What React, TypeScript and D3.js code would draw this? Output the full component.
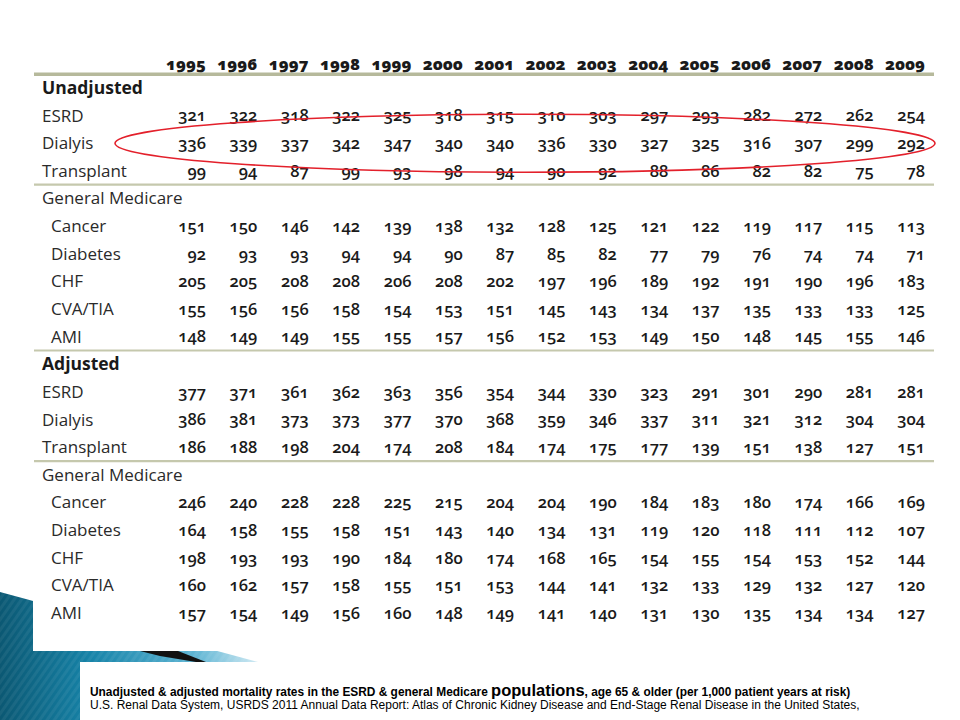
import React from "react";
import * as d3 from "d3";

const years = ["1995","1996","1997","1998","1999","2000","2001","2002","2003","2004","2005","2006","2007","2008","2009"];

const sectionTitles = ["Unadjusted", "Adjusted"];
const groupTitle = "General Medicare";
const renalLabels = ["ESRD", "Dialyis", "Transplant"];
const medicareLabels = ["Cancer", "Diabetes", "CHF", "CVA/TIA", "AMI"];

// Unadjusted
const unEsrd = [321,322,318,322,325,318,315,310,303,297,293,282,272,262,254];
const unDialysis = [336,339,337,342,347,340,340,336,330,327,325,316,307,299,292];
const unTransplant = [99,94,87,99,93,98,94,90,92,88,86,82,82,75,78];
const unCancer = [151,150,146,142,139,138,132,128,125,121,122,119,117,115,113];
const unDiabetes = [92,93,93,94,94,90,87,85,82,77,79,76,74,74,71];
const unChf = [205,205,208,208,206,208,202,197,196,189,192,191,190,196,183];
const unCva = [155,156,156,158,154,153,151,145,143,134,137,135,133,133,125];
const unAmi = [148,149,149,155,155,157,156,152,153,149,150,148,145,155,146];

// Adjusted
const adEsrd = [377,371,361,362,363,356,354,344,330,323,291,301,290,281,281];
const adDialysis = [386,381,373,373,377,370,368,359,346,337,311,321,312,304,304];
const adTransplant = [186,188,198,204,174,208,184,174,175,177,139,151,138,127,151];
const adCancer = [246,240,228,228,225,215,204,204,190,184,183,180,174,166,169];
const adDiabetes = [164,158,155,158,151,143,140,134,131,119,120,118,111,112,107];
const adChf = [198,193,193,190,184,180,174,168,165,154,155,154,153,152,144];
const adCva = [160,162,157,158,155,151,153,144,141,132,133,129,132,127,120];
const adAmi = [157,154,149,156,160,148,149,141,140,131,130,135,134,134,127];

const captionBold = "Unadjusted & adjusted mortality rates in the ESRD & general Medicare ";
const captionBig = "populations";
const captionRest = ", age 65 & older (per 1,000 patient years at risk)";
const captionSource = "U.S. Renal Data System, USRDS 2011 Annual Data Report: Atlas of Chronic Kidney Disease and End-Stage Renal Disease in the United States,";

type Row = { kind: "section" | "group" | "renal" | "medicare"; label: string; values?: number[] };

function buildRows(): Row[] {
  const rows: Row[] = [];
  const sets = [
    [unEsrd, unDialysis, unTransplant, unCancer, unDiabetes, unChf, unCva, unAmi],
    [adEsrd, adDialysis, adTransplant, adCancer, adDiabetes, adChf, adCva, adAmi],
  ];
  sectionTitles.forEach((t, s) => {
    rows.push({ kind: "section", label: t });
    renalLabels.forEach((l, i) => rows.push({ kind: "renal", label: l, values: sets[s][i] }));
    rows.push({ kind: "group", label: groupTitle });
    medicareLabels.forEach((l, i) => rows.push({ kind: "medicare", label: l, values: sets[s][3 + i] }));
  });
  return rows;
}

export default function App() {
  const W = 960, H = 720;
  const rows = buildRows();
  const x = d3.scalePoint<string>().domain(years).range([206, 925]);
  const y = d3.scaleLinear().domain([0, rows.length - 1]).range([88, 613]);
  const lineX0 = 34, lineX1 = 934;
  const textColor = "#1a1a1a";
  const labelColor = "#2a2a2a";
  const ruleColor = "#c5c8ad";
  const tableFont = "'Open Sans', 'Noto Sans', sans-serif";

  const seps: number[] = [];
  rows.forEach((r, i) => {
    if (i > 0 && (r.kind === "group" || r.kind === "section")) seps.push(y(i - 0.5));
  });

  const dialIdx = rows.findIndex((r) => r.label === "Dialyis");
  const ex0 = (x("1995") as number) - 91;
  const ex1 = (x("2009") as number) + 10;
  const ellipse = { cx: (ex0 + ex1) / 2, cy: y(dialIdx), rx: (ex1 - ex0) / 2, ry: 29 };

  const labelX = (r: Row) => (r.kind === "medicare" ? 51 : 42);
  const labelSize = (r: Row) => (r.kind === "section" ? 17.5 : 17);

  const bluePath = d3.line()([[0, 592], [258, 662], [258, 720], [0, 720]]) + "Z";
  const streak = d3.line()([[140, 651], [178, 651], [206, 662], [196, 662], [160, 656]]) + "Z";

  return (
    <svg width={W} height={H} style={{ position: "absolute", left: 0, top: 0, background: "#fff" }}>
      <defs>
        <linearGradient id="blueGrad" x1="0" y1="0" x2="1" y2="0">
          <stop offset="0" stopColor="#0b5873" />
          <stop offset="0.35" stopColor="#1683a8" />
          <stop offset="0.75" stopColor="#5db4d3" />
          <stop offset="1" stopColor="#cfe9f3" />
        </linearGradient>
        <pattern id="stripes" width="6" height="6" patternUnits="userSpaceOnUse" patternTransform="rotate(35)">
          <rect width="3" height="6" fill="rgba(255,255,255,0.06)" />
        </pattern>
      </defs>
      <rect x={0} y={0} width={W} height={H} fill="#fff" />
      <path d={bluePath} fill="url(#blueGrad)" />
      <path d={bluePath} fill="url(#stripes)" />
      <path d={streak} fill="#111" />
      <rect x={33} y={0} width={W - 33} height={651} fill="#fff" />
      <rect x={80} y={662} width={W - 80} height={H - 662} fill="#fff" />

      <g fontFamily={tableFont} fill={textColor} style={{ fontVariantNumeric: "oldstyle-nums tabular-nums" }}>
        {years.map((yr) => (
          <text key={yr} x={x(yr)} y={y(-0.87)} dy="0.35em" textAnchor="end" fontSize={16.5} fontWeight={800}>
            {yr}
          </text>
        ))}
        <line x1={lineX0} x2={lineX1} y1={y(-0.5)} y2={y(-0.5)} stroke="#b6b99b" strokeWidth={3.5} />
        {seps.map((s, i) => (
          <line key={i} x1={lineX0} x2={lineX1} y1={s} y2={s} stroke={ruleColor} strokeWidth={2.2} />
        ))}
        {rows.map((r, i) => (
          <g key={i}>
            <text x={labelX(r)} y={y(i)} dy="0.35em" fontSize={labelSize(r)} fontWeight={r.kind === "section" ? 700 : 400} fill={r.kind === "section" ? textColor : labelColor}>
              {r.label}
            </text>
            {r.values &&
              r.values.map((v, j) => (
                <text key={j} x={x(years[j])} y={y(i)} dy="0.35em" textAnchor="end" fontSize={16.5} fontWeight={600}>
                  {v}
                </text>
              ))}
          </g>
        ))}
      </g>

      <ellipse cx={ellipse.cx} cy={ellipse.cy} rx={ellipse.rx} ry={ellipse.ry} fill="none" stroke="#e3202b" strokeWidth={1.6} />

      <g fontFamily="'Liberation Sans', Arial, sans-serif" fill="#000">
        <text x={90} y={696} fontSize={11.9} fontWeight={700}>
          {captionBold}
          <tspan fontSize={16.5}>{captionBig}</tspan>
          {captionRest}
        </text>
        <text x={90} y={709} fontSize={12}>
          {captionSource}
        </text>
      </g>
    </svg>
  );
}
